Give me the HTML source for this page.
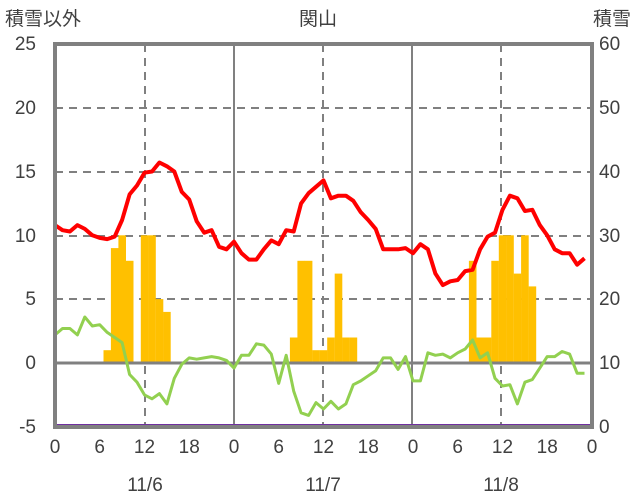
<!DOCTYPE html>
<html><head><meta charset="utf-8"><style>
html,body{margin:0;padding:0;background:#fff;}
svg{display:block;}
text{font-family:"Liberation Sans","Noto Sans CJK JP",sans-serif;fill:#404040;font-size:19px;}
</style></head><body>
<svg id="c" width="636" height="501" viewBox="0 0 636 501" xmlns="http://www.w3.org/2000/svg">
<g id="grid" stroke="#808080" stroke-width="2" stroke-dasharray="8,6" fill="none">
<line x1="55" y1="299" x2="592" y2="299"/>
<line x1="55" y1="236" x2="592" y2="236"/>
<line x1="55" y1="172" x2="592" y2="172"/>
<line x1="55" y1="108" x2="592" y2="108"/>
<line x1="145" y1="44" x2="145" y2="427"/>
<line x1="323" y1="44" x2="323" y2="427"/>
<line x1="501" y1="44" x2="501" y2="427"/>
</g>
<g stroke="#808080" stroke-width="2">
<line x1="234" y1="44" x2="234" y2="427"/>
<line x1="412" y1="44" x2="412" y2="427"/>
</g>
<g id="bars" fill="#FFC000"></g>
<line x1="55" y1="363" x2="592" y2="363" stroke="#808080" stroke-width="3"/>
<polyline id="red" fill="none" stroke="#FF0000" stroke-width="4" stroke-linejoin="round"/>
<polyline id="green" fill="none" stroke="#92D050" stroke-width="3" stroke-linejoin="round"/>
<line x1="55" y1="425.5" x2="592" y2="425.5" stroke="#7030A0" stroke-width="3"/>
<rect x="55" y="44" width="537" height="383" fill="none" stroke="#808080" stroke-width="4"/>
<text x="5" y="25">積雪以外</text>
<text x="318" y="25" text-anchor="middle">関山</text>
<text x="631" y="25" text-anchor="end">積雪</text>
<g text-anchor="end">
<text x="36" y="50">25</text><text x="36" y="114">20</text><text x="36" y="178">15</text>
<text x="36" y="242">10</text><text x="36" y="305">5</text><text x="36" y="369">0</text>
<text x="36" y="433">-5</text>
</g>
<g text-anchor="start">
<text x="599" y="50">60</text><text x="599" y="114">50</text><text x="599" y="178">40</text>
<text x="599" y="242">30</text><text x="599" y="305">20</text><text x="599" y="369">10</text>
<text x="599" y="433">0</text>
</g>
<g text-anchor="middle" id="xl"></g>
<g text-anchor="middle">
<text x="145" y="491">11/6</text><text x="323" y="491">11/7</text><text x="501" y="491">11/8</text>
</g>
</svg>
<script>
var X=function(h){return 55+h*7.458;},Y=function(v){return 363-v*12.77;};
var bars={7:1,8:9,9:10,10:8,12:10,13:10,14:5,15:4,32:2,33:8,34:8,35:1,36:1,37:2,38:7,39:2,40:2,56:8,57:2,58:2,59:8,60:10,61:10,62:7,63:10,64:6};
var s='';for(var h in bars){var x=X(+h-0.5),v=bars[h];s+='<rect x="'+x.toFixed(1)+'" y="'+Y(v).toFixed(1)+'" width="7.6" height="'+(v*12.77).toFixed(1)+'"/>';}
document.getElementById('bars').innerHTML=s;
var red=[10.8,10.4,10.3,10.8,10.5,10.0,9.8,9.7,9.9,11.2,13.2,13.9,14.9,15.0,15.7,15.4,15.0,13.4,12.8,11.1,10.2,10.4,9.1,8.9,9.5,8.6,8.1,8.1,8.9,9.6,9.3,10.4,10.3,12.5,13.3,13.8,14.3,12.9,13.1,13.1,12.7,11.8,11.2,10.5,8.9,8.9,8.9,9.0,8.6,9.3,8.9,7.0,6.1,6.4,6.5,7.2,7.3,8.9,9.9,10.2,12.0,13.1,12.9,11.9,12.0,10.8,10.0,8.9,8.6,8.6,7.7,8.2,8.2];
var green=[2.2,2.7,2.7,2.2,3.6,2.9,3.0,2.4,2.0,1.6,-0.9,-1.5,-2.5,-2.8,-2.4,-3.2,-1.2,-0.1,0.4,0.3,0.4,0.5,0.4,0.2,-0.4,0.6,0.6,1.5,1.4,0.7,-1.6,0.6,-2.2,-3.9,-4.1,-3.1,-3.6,-3.0,-3.6,-3.2,-1.7,-1.4,-1.0,-0.6,0.4,0.4,-0.5,0.5,-1.4,-1.4,0.8,0.6,0.7,0.4,0.8,1.1,1.8,0.4,0.8,-1.2,-1.8,-1.7,-3.2,-1.5,-1.3,-0.4,0.5,0.5,0.9,0.7,-0.8,-0.8,-0.8];
function pts(a){return a.map(function(v,i){return X(i).toFixed(1)+','+Y(v).toFixed(1);}).join(' ');}
document.getElementById('red').setAttribute('points',pts(red.slice(0,72)));
document.getElementById('green').setAttribute('points',pts(green.slice(0,72)));
var l=['0','6','12','18','0','6','12','18','0','6','12','18','0'],t='';
for(var i=0;i<13;i++){t+='<text x="'+X(i*6).toFixed(1)+'" y="453">'+l[i]+'</text>';}
document.getElementById('xl').innerHTML=t;
</script>
</body></html>
